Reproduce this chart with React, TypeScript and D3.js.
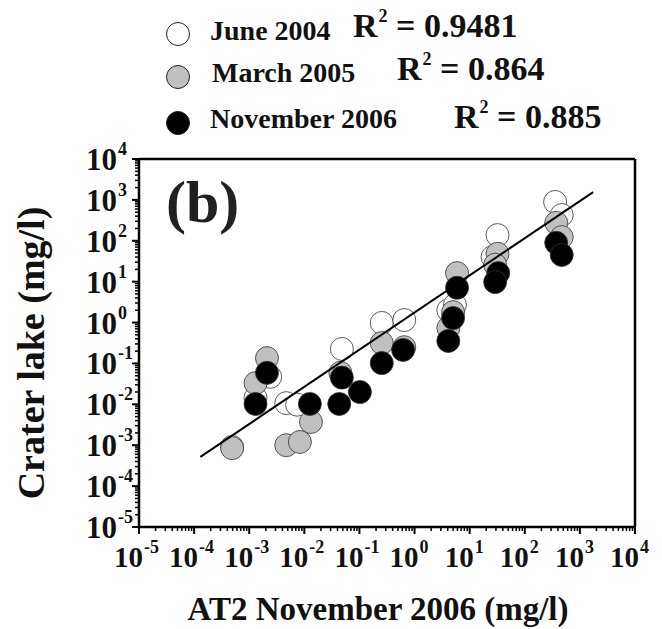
import React from 'react';
import * as d3 from 'd3';

const W = 662;
const H = 629;

const seriesNames = ['June 2004', 'March 2005', 'November 2006'];
const r2Values = ['0.9481', '0.864', '0.885'];
const seriesFills = ['#ffffff', '#c0c0c0', '#000000'];

// June 2004 (open circles)
const juneX = [4.9e-4, 1.3e-3, 2.4e-3, 4.7e-3, 7.4e-3, 0.048, 0.254, 0.65, 4.1, 5.4, 32, 26, 355, 468];
const juneY = [9.1e-4, 0.0145, 0.047, 0.0107, 9.8e-3, 0.226, 0.98, 1.15, 2.0, 2.7, 138, 40, 890, 427];

// March 2005 (grey circles)
const marchX = [4.9e-4, 1.3e-3, 2.1e-3, 4.7e-3, 8.3e-3, 0.0132, 0.045, 0.254, 0.65, 5.9, 5.0, 4.1, 32, 29, 372, 468];
const marchY = [8.5e-4, 0.033, 0.135, 1.0e-3, 1.2e-3, 3.7e-3, 0.059, 0.316, 0.25, 16.2, 1.8, 0.74, 48, 26, 275, 123];

// November 2006 (black circles)
const novX = [1.3e-3, 2.1e-3, 0.0126, 0.043, 0.048, 0.102, 0.254, 0.62, 4.1, 5.0, 5.9, 33, 29, 372, 468];
const novY = [0.0102, 0.059, 0.0102, 0.0102, 0.045, 0.02, 0.102, 0.214, 0.355, 1.29, 7.1, 16.2, 9.8, 89, 45];

// regression line (log-log): log10(y) = slope * log10(x) + intercept
const fitSlope = 0.909;
const fitIntercept = 0.246;
const fitXRange = [1.3e-4, 1.74e3];

const decades = [-5, -4, -3, -2, -1, 0, 1, 2, 3, 4];

const xAxisTitle = 'AT2 November 2006 (mg/l)';
const yAxisTitle = 'Crater lake (mg/l)';
const panelLabel = '(b)';

const FONT = '"Liberation Serif", "Times New Roman", serif';

export default function App() {
  const left = 139;
  const right = 635;
  const top = 159;
  const bottom = 527;

  const x = d3.scaleLog().domain([1e-5, 1e4]).range([left, right]);
  const y = d3.scaleLog().domain([1e-5, 1e4]).range([bottom, top]);

  const series = [
    { xs: juneX, ys: juneY },
    { xs: marchX, ys: marchY },
    { xs: novX, ys: novY },
  ];

  const minorVals: number[] = [];
  decades.slice(0, -1).forEach((d) => {
    for (let k = 2; k <= 9; k++) minorVals.push(k * Math.pow(10, d));
  });

  const fitPts: [number, number][] = fitXRange.map((xv) => [
    xv,
    Math.pow(10, fitSlope * Math.log10(xv) + fitIntercept),
  ]);
  const line = d3
    .line<[number, number]>()
    .x((d) => x(d[0]))
    .y((d) => y(d[1]));

  const legendY = [34, 77, 123];
  const legendTextX = [210, 212, 210];
  const legendTextY = [40, 82, 128];
  const r2X = [353, 397, 454];
  const r2Y = [37, 80, 128];

  const R = 11.5;

  return (
    <svg
      width={W}
      height={H}
      style={{ position: 'absolute', left: 0, top: 0, background: '#fff' }}
      fontFamily={FONT}
      fontWeight="bold"
    >
      <rect x={0} y={0} width={W} height={H} fill="#fff" />

      {/* legend */}
      {seriesNames.map((name, i) => (
        <g key={name}>
          <circle cx={178} cy={legendY[i]} r={R} fill={seriesFills[i]} stroke="#222" strokeWidth={1} />
          <text x={legendTextX[i]} y={legendTextY[i]} fontSize={28} fill="#111">
            {name}
          </text>
          <text x={r2X[i]} y={r2Y[i]} fontSize={34} fill="#111">
            R
            <tspan fontSize={18} dy={-15} dx={1}>2</tspan>
            <tspan dy={15}>{' = ' + r2Values[i]}</tspan>
          </text>
        </g>
      ))}

      {/* frame */}
      <line x1={left} x2={right} y1={top} y2={top} stroke="#000" strokeWidth={2.5} />
      <line x1={right} x2={right} y1={top} y2={bottom} stroke="#000" strokeWidth={2.5} />

      {/* data */}
      {series.map((s, si) => (
        <g key={si}>
          {s.xs.map((xv, i) => (
            <circle
              key={i}
              cx={x(xv)}
              cy={y(s.ys[i])}
              r={R}
              fill={seriesFills[si]}
              stroke="#333"
              strokeWidth={0.8}
            />
          ))}
        </g>
      ))}

      {/* regression */}
      <path d={line(fitPts) || ''} fill="none" stroke="#000" strokeWidth={2} />

      {/* axes */}
      <line x1={left} x2={right + 1} y1={bottom} y2={bottom} stroke="#000" strokeWidth={2.5} />
      <line x1={left} x2={left} y1={top - 1} y2={bottom} stroke="#000" strokeWidth={2.5} />

      {decades.map((d) => {
        const v = Math.pow(10, d);
        return (
          <g key={'maj' + d}>
            <line x1={x(v)} x2={x(v)} y1={bottom} y2={bottom + 7} stroke="#000" strokeWidth={2} />
            <line x1={left - 7} x2={left} y1={y(v)} y2={y(v)} stroke="#000" strokeWidth={2} />
          </g>
        );
      })}
      {minorVals.map((v, i) => (
        <g key={'min' + i}>
          <line x1={x(v)} x2={x(v)} y1={bottom} y2={bottom + 4} stroke="#000" strokeWidth={1.5} />
          <line x1={left - 4} x2={left} y1={y(v)} y2={y(v)} stroke="#000" strokeWidth={1.5} />
        </g>
      ))}

      {/* x tick labels */}
      {decades.map((d) => {
        const tx = x(Math.pow(10, d));
        return (
          <g key={'xl' + d} fill="#111">
            <text x={tx + 4} y={567} fontSize={29} textAnchor="end">10</text>
            <text x={tx + 5} y={553} fontSize={18}>{String(d)}</text>
          </g>
        );
      })}

      {/* y tick labels */}
      {decades.map((d) => {
        const ty = y(Math.pow(10, d));
        return (
          <g key={'yl' + d} fill="#111">
            <text x={117} y={ty + 11} fontSize={31} textAnchor="end">10</text>
            <text x={118} y={ty - 4} fontSize={18}>{String(d)}</text>
          </g>
        );
      })}

      {/* axis titles */}
      <text x={378} y={620} fontSize={33} textAnchor="middle" fill="#111">
        {xAxisTitle}
      </text>
      <text transform="translate(44,353) rotate(-90)" fontSize={38} textAnchor="middle" fill="#111">
        {yAxisTitle}
      </text>

      {/* panel label */}
      <text x={166} y={222} fontSize={60} fill="#231f20">
        {panelLabel}
      </text>
    </svg>
  );
}
